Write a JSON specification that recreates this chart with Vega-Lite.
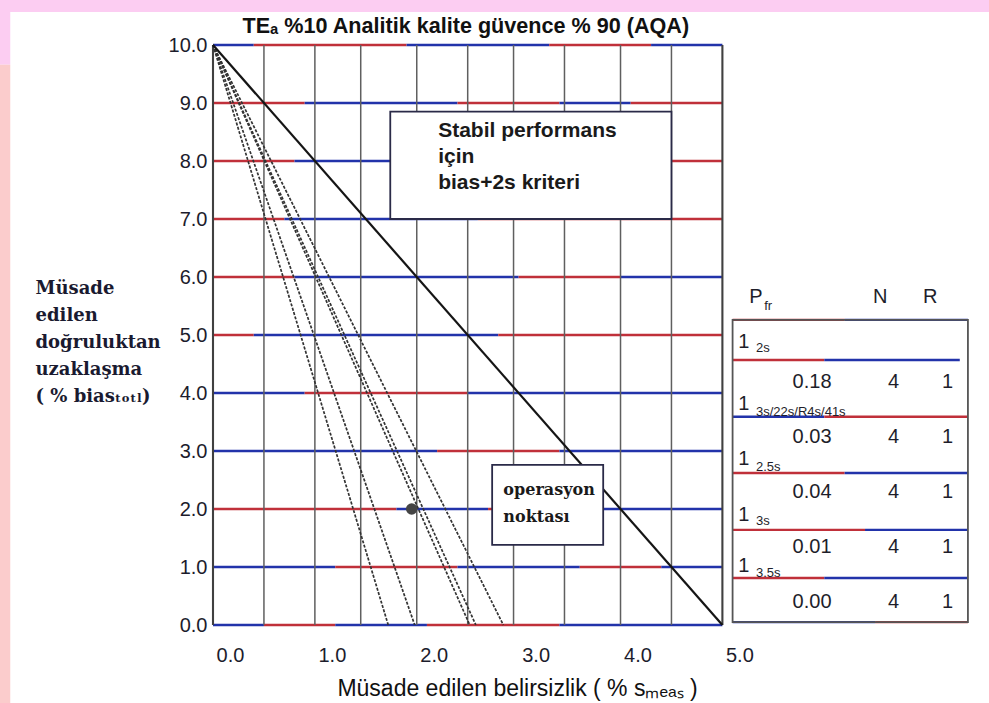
{
  "$schema": "https://vega.github.io/schema/vega-lite/v6.json",
  "width": 759,
  "height": 580,
  "autosize": {"type": "none"},
  "padding": {"left": 213, "top": 45, "right": 17, "bottom": 78},
  "background": "#ffffff",
  "config": {"view": {"stroke": null}},
  "datasets": {
    "bands": [
      {"band": "top", "x1": -2.1, "x2": 7.65, "y1": 10.57, "y2": 10.85},
      {"band": "top", "x1": -2.1, "x2": -1.99, "y1": 9.66, "y2": 10.85},
      {"band": "left", "x1": -2.1, "x2": -1.99, "y1": -1.4, "y2": 9.66}
    ],
    "hlines": [
      {"y": 10, "x1": 0, "x2": 0.4, "tone": "b"}, {"y": 10, "x1": 0.4, "x2": 1.9, "tone": "r"}, {"y": 10, "x1": 1.9, "x2": 3.3, "tone": "b"}, {"y": 10, "x1": 3.3, "x2": 4.3, "tone": "r"}, {"y": 10, "x1": 4.3, "x2": 5, "tone": "b"},
      {"y": 9, "x1": 0, "x2": 0.9, "tone": "r"}, {"y": 9, "x1": 0.9, "x2": 2.4, "tone": "b"}, {"y": 9, "x1": 2.4, "x2": 3.4, "tone": "r"}, {"y": 9, "x1": 3.4, "x2": 4.1, "tone": "b"}, {"y": 9, "x1": 4.1, "x2": 5, "tone": "r"},
      {"y": 8, "x1": 0, "x2": 0.8, "tone": "r"}, {"y": 8, "x1": 0.8, "x2": 3.5, "tone": "b"}, {"y": 8, "x1": 3.5, "x2": 5, "tone": "r"},
      {"y": 7, "x1": 0, "x2": 0.7, "tone": "r"}, {"y": 7, "x1": 0.7, "x2": 2.6, "tone": "b"}, {"y": 7, "x1": 2.6, "x2": 5, "tone": "r"},
      {"y": 6, "x1": 0, "x2": 0.8, "tone": "r"}, {"y": 6, "x1": 0.8, "x2": 3.0, "tone": "b"}, {"y": 6, "x1": 3.0, "x2": 4.0, "tone": "r"}, {"y": 6, "x1": 4.0, "x2": 5, "tone": "b"},
      {"y": 5, "x1": 0, "x2": 0.4, "tone": "r"}, {"y": 5, "x1": 0.4, "x2": 2.8, "tone": "b"}, {"y": 5, "x1": 2.8, "x2": 5, "tone": "r"},
      {"y": 4, "x1": 0, "x2": 0.9, "tone": "b"}, {"y": 4, "x1": 0.9, "x2": 2.5, "tone": "r"}, {"y": 4, "x1": 2.5, "x2": 5, "tone": "b"},
      {"y": 3, "x1": 0, "x2": 2.2, "tone": "b"}, {"y": 3, "x1": 2.2, "x2": 3.4, "tone": "r"}, {"y": 3, "x1": 3.4, "x2": 5, "tone": "b"},
      {"y": 2, "x1": 0, "x2": 1.8, "tone": "r"}, {"y": 2, "x1": 1.8, "x2": 2.7, "tone": "b"}, {"y": 2, "x1": 2.7, "x2": 3.8, "tone": "r"}, {"y": 2, "x1": 3.8, "x2": 5, "tone": "b"},
      {"y": 1, "x1": 0, "x2": 1.2, "tone": "b"}, {"y": 1, "x1": 1.2, "x2": 2.4, "tone": "r"}, {"y": 1, "x1": 2.4, "x2": 3.6, "tone": "b"}, {"y": 1, "x1": 3.6, "x2": 4.4, "tone": "r"}, {"y": 1, "x1": 4.4, "x2": 5, "tone": "b"},
      {"y": 0, "x1": 0, "x2": 0.5, "tone": "b"}, {"y": 0, "x1": 0.5, "x2": 1.2, "tone": "r"}, {"y": 0, "x1": 1.2, "x2": 2.1, "tone": "b"}, {"y": 0, "x1": 2.1, "x2": 3.4, "tone": "r"}, {"y": 0, "x1": 3.4, "x2": 5, "tone": "b"},
      {"y": 5.26, "x1": 5.1, "x2": 6.2, "tone": "r"}, {"y": 5.26, "x1": 6.2, "x2": 7.41, "tone": "b"},
      {"y": 4.57, "x1": 5.1, "x2": 6.0, "tone": "r"}, {"y": 4.57, "x1": 6.0, "x2": 7.33, "tone": "b"},
      {"y": 3.59, "x1": 5.1, "x2": 6.0, "tone": "b"}, {"y": 3.59, "x1": 6.0, "x2": 7.41, "tone": "r"},
      {"y": 2.62, "x1": 5.1, "x2": 6.2, "tone": "r"}, {"y": 2.62, "x1": 6.2, "x2": 7.41, "tone": "b"},
      {"y": 1.64, "x1": 5.1, "x2": 6.4, "tone": "r"}, {"y": 1.64, "x1": 6.4, "x2": 7.41, "tone": "b"},
      {"y": 0.81, "x1": 5.1, "x2": 6.0, "tone": "r"}, {"y": 0.81, "x1": 6.0, "x2": 7.41, "tone": "b"},
      {"y": 0.05, "x1": 5.1, "x2": 6.5, "tone": "b"}, {"y": 0.05, "x1": 6.5, "x2": 7.41, "tone": "r"}
    ],
    "vlines": [
      {"x": 0.5, "ylo": 0, "yhi": 10, "kind": "grid"}, {"x": 1.0, "ylo": 0, "yhi": 10, "kind": "grid"}, {"x": 1.45, "ylo": 0, "yhi": 10, "kind": "grid"},
      {"x": 2.0, "ylo": 0, "yhi": 10, "kind": "grid"}, {"x": 2.5, "ylo": 0, "yhi": 10, "kind": "grid"}, {"x": 2.95, "ylo": 0, "yhi": 10, "kind": "grid"},
      {"x": 3.45, "ylo": 0, "yhi": 10, "kind": "grid"}, {"x": 4.0, "ylo": 0, "yhi": 10, "kind": "grid"}, {"x": 4.5, "ylo": 0, "yhi": 10, "kind": "grid"},
      {"x": 0, "ylo": 0, "yhi": 10, "kind": "edge"}, {"x": 5, "ylo": 0, "yhi": 10, "kind": "edge"}
    ],
    "rules": [
      {"rule": "bias+2s", "x0": 0, "y0": 10, "xi": 5.0, "yi": 0},
      {"rule": "1_2s", "x0": 0, "y0": 10, "xi": 2.85, "yi": 0},
      {"rule": "1_3s/22s/R4s/41s", "x0": 0, "y0": 10, "xi": 2.58, "yi": 0},
      {"rule": "1_2.5s", "x0": 0, "y0": 10, "xi": 2.52, "yi": 0},
      {"rule": "1_3s", "x0": 0, "y0": 10, "xi": 1.98, "yi": 0},
      {"rule": "1_3.5s", "x0": 0, "y0": 10, "xi": 1.72, "yi": 0}
    ],
    "boxes": [
      {"box": "stabil", "x1": 1.74, "x2": 4.5, "y1": 7.0, "y2": 8.85},
      {"box": "oper", "x1": 2.74, "x2": 3.83, "y1": 1.38, "y2": 2.76}
    ],
    "tablebox": [{"x1": 5.1, "x2": 7.41, "y1": 0.05, "y2": 5.26}],
    "texts": [
      {"kind": "title", "t": "TEₐ %10 Analitik kalite güvence % 90 (AQA)", "x": 0.29, "y": 10.2},
      {"kind": "stabil", "t": "Stabil performans", "x": 2.21, "y": 8.52},
      {"kind": "stabil", "t": "için", "x": 2.21, "y": 8.07},
      {"kind": "stabil", "t": "bias+2s kriteri", "x": 2.21, "y": 7.62},
      {"kind": "oper", "t": "operasyon", "x": 2.85, "y": 2.33},
      {"kind": "oper", "t": "noktası", "x": 2.85, "y": 1.86},
      {"kind": "cell", "t": "P", "x": 5.33, "y": 5.66},
      {"kind": "cell", "t": "N", "x": 6.55, "y": 5.66},
      {"kind": "cell", "t": "R", "x": 7.04, "y": 5.66},
      {"kind": "sub", "t": "fr", "x": 5.41, "y": 5.5},
      {"kind": "one", "t": "1", "x": 5.21, "y": 4.88},
      {"kind": "sub", "t": "2s", "x": 5.33, "y": 4.78},
      {"kind": "cell", "t": "0.18", "x": 5.88, "y": 4.19},
      {"kind": "cell", "t": "4", "x": 6.68, "y": 4.19},
      {"kind": "cell", "t": "1", "x": 7.21, "y": 4.19},
      {"kind": "one", "t": "1", "x": 5.21, "y": 3.81},
      {"kind": "sub", "t": "3s/22s/R4s/41s", "x": 5.33, "y": 3.67},
      {"kind": "cell", "t": "0.03", "x": 5.88, "y": 3.24},
      {"kind": "cell", "t": "4", "x": 6.68, "y": 3.24},
      {"kind": "cell", "t": "1", "x": 7.21, "y": 3.24},
      {"kind": "one", "t": "1", "x": 5.21, "y": 2.86},
      {"kind": "sub", "t": "2.5s", "x": 5.33, "y": 2.72},
      {"kind": "cell", "t": "0.04", "x": 5.88, "y": 2.29},
      {"kind": "cell", "t": "4", "x": 6.68, "y": 2.29},
      {"kind": "cell", "t": "1", "x": 7.21, "y": 2.29},
      {"kind": "one", "t": "1", "x": 5.21, "y": 1.9},
      {"kind": "sub", "t": "3s", "x": 5.33, "y": 1.8},
      {"kind": "cell", "t": "0.01", "x": 5.88, "y": 1.34},
      {"kind": "cell", "t": "4", "x": 6.68, "y": 1.34},
      {"kind": "cell", "t": "1", "x": 7.21, "y": 1.34},
      {"kind": "one", "t": "1", "x": 5.21, "y": 1.02},
      {"kind": "sub", "t": "3.5s", "x": 5.33, "y": 0.9},
      {"kind": "cell", "t": "0.00", "x": 5.88, "y": 0.4},
      {"kind": "cell", "t": "4", "x": 6.68, "y": 0.4},
      {"kind": "cell", "t": "1", "x": 7.21, "y": 0.4}
    ],
    "point": [{"x": 1.95, "y": 2.0}]
  },
  "layer": [
    {
      "data": {"name": "hlines"},
      "mark": {"type": "rule", "strokeWidth": 2.4},
      "encoding": {
        "x": {"field": "x1", "type": "quantitative", "scale": {"domain": [0, 7.45], "nice": false, "zero": false},
          "axis": {"values": [0, 1, 2, 3, 4, 5], "format": ".1f", "domain": false, "ticks": false, "grid": false, "labelFont": "Liberation Sans", "labelFontSize": 20, "labelColor": "#1c1c2c", "labelPadding": 20, "labelOffset": 17, "labelFlush": false, "labelOverlap": false,
            "title": "Müsade edilen belirsizlik ( % sₘₑₐₛ )", "titleFont": "Liberation Sans", "titleFontSize": 23, "titleFontWeight": "normal", "titleColor": "#111111", "titleX": 304, "titleY": 70, "titleAlign": "center", "titleBaseline": "alphabetic"}},
        "x2": {"field": "x2"},
        "y": {"field": "y", "type": "quantitative", "scale": {"domain": [0, 10], "nice": false, "zero": false},
          "axis": {"values": [0, 1, 2, 3, 4, 5, 6, 7, 8, 9, 10], "format": ".1f", "domain": false, "ticks": false, "grid": false, "labelFont": "Liberation Sans", "labelFontSize": 20, "labelColor": "#1c1c2c", "labelPadding": 6, "labelDy": 3, "labelFlush": false, "labelOverlap": false,
            "title": ["Müsade", "edilen", "doğruluktan", "uzaklaşma", "( % biasₜₒₜₗ)"], "titleAngle": 0, "titleAlign": "left", "titleBaseline": "top", "titleX": -178, "titleY": 234, "titleFont": "DejaVu Serif", "titleFontSize": 18, "titleFontWeight": "bold", "titleLineHeight": 27, "titleColor": "#1a1a30"}},
        "stroke": {"field": "tone", "type": "nominal", "scale": {"domain": ["b", "r"], "range": ["#2233aa", "#c0303a"]}, "legend": null}
      }
    },
    {
      "data": {"name": "bands"},
      "mark": {"type": "rect", "strokeWidth": 0},
      "encoding": {
        "x": {"field": "x1", "type": "quantitative"},
        "x2": {"field": "x2"},
        "y": {"field": "y1", "type": "quantitative"},
        "y2": {"field": "y2"},
        "fill": {"field": "band", "type": "nominal", "scale": {"domain": ["top", "left"], "range": ["#fccdf2", "#fbcccc"]}, "legend": null}
      }
    },
    {
      "data": {"name": "vlines"},
      "transform": [{"filter": "datum.kind === 'grid'"}],
      "mark": {"type": "rule", "color": "#5f5f5f", "strokeWidth": 1.5},
      "encoding": {
        "x": {"field": "x", "type": "quantitative"},
        "y": {"field": "ylo", "type": "quantitative"},
        "y2": {"field": "yhi"}
      }
    },
    {
      "data": {"name": "vlines"},
      "transform": [{"filter": "datum.kind === 'edge'"}],
      "mark": {"type": "rule", "color": "#404040", "strokeWidth": 2.1},
      "encoding": {
        "x": {"field": "x", "type": "quantitative"},
        "y": {"field": "ylo", "type": "quantitative"},
        "y2": {"field": "yhi"}
      }
    },
    {
      "data": {"name": "rules"},
      "transform": [{"filter": "datum.rule !== 'bias+2s'"}],
      "mark": {"type": "rule", "strokeWidth": 1.7, "color": "#333333", "strokeDash": [3, 1.5]},
      "encoding": {
        "x": {"field": "x0", "type": "quantitative"},
        "y": {"field": "y0", "type": "quantitative"},
        "x2": {"field": "xi"},
        "y2": {"field": "yi"}
      }
    },
    {
      "data": {"name": "rules"},
      "transform": [{"filter": "datum.rule === 'bias+2s'"}],
      "mark": {"type": "rule", "strokeWidth": 2.2, "color": "#151515"},
      "encoding": {
        "x": {"field": "x0", "type": "quantitative"},
        "y": {"field": "y0", "type": "quantitative"},
        "x2": {"field": "xi"},
        "y2": {"field": "yi"}
      }
    },
    {
      "data": {"name": "boxes"},
      "mark": {"type": "rect", "fill": "#ffffff", "stroke": "#2a2a48", "strokeWidth": 1.8},
      "encoding": {
        "x": {"field": "x1", "type": "quantitative"},
        "x2": {"field": "x2"},
        "y": {"field": "y1", "type": "quantitative"},
        "y2": {"field": "y2"}
      }
    },
    {
      "data": {"name": "tablebox"},
      "mark": {"type": "rect", "fill": "#ffffff", "fillOpacity": 0, "stroke": "#555555", "strokeWidth": 1.8},
      "encoding": {
        "x": {"field": "x1", "type": "quantitative"},
        "x2": {"field": "x2"},
        "y": {"field": "y1", "type": "quantitative"},
        "y2": {"field": "y2"}
      }
    },
    {
      "data": {"name": "texts"},
      "transform": [{"filter": "datum.kind === 'title'"}],
      "mark": {"type": "text", "align": "left", "baseline": "alphabetic", "font": "Liberation Sans", "fontSize": 21.6, "fontWeight": "bold", "color": "#111111"},
      "encoding": {
        "x": {"field": "x", "type": "quantitative"},
        "y": {"field": "y", "type": "quantitative"},
        "text": {"field": "t"}
      }
    },
    {
      "data": {"name": "texts"},
      "transform": [{"filter": "datum.kind === 'stabil'"}],
      "mark": {"type": "text", "align": "left", "baseline": "middle", "font": "Liberation Sans", "fontSize": 21, "fontWeight": "bold", "color": "#1a1a1a"},
      "encoding": {
        "x": {"field": "x", "type": "quantitative"},
        "y": {"field": "y", "type": "quantitative"},
        "text": {"field": "t"}
      }
    },
    {
      "data": {"name": "texts"},
      "transform": [{"filter": "datum.kind === 'oper'"}],
      "mark": {"type": "text", "align": "left", "baseline": "middle", "font": "DejaVu Serif", "fontSize": 16, "fontWeight": "bold", "color": "#1a1a1a"},
      "encoding": {
        "x": {"field": "x", "type": "quantitative"},
        "y": {"field": "y", "type": "quantitative"},
        "text": {"field": "t"}
      }
    },
    {
      "data": {"name": "texts"},
      "transform": [{"filter": "datum.kind === 'cell' || datum.kind === 'one'"}],
      "mark": {"type": "text", "align": "center", "baseline": "middle", "font": "Liberation Sans", "fontSize": 20, "color": "#1e1e2a"},
      "encoding": {
        "x": {"field": "x", "type": "quantitative"},
        "y": {"field": "y", "type": "quantitative"},
        "text": {"field": "t"}
      }
    },
    {
      "data": {"name": "texts"},
      "transform": [{"filter": "datum.kind === 'sub'"}],
      "mark": {"type": "text", "align": "left", "baseline": "middle", "font": "Liberation Sans", "fontSize": 13, "color": "#1e1e2a"},
      "encoding": {
        "x": {"field": "x", "type": "quantitative"},
        "y": {"field": "y", "type": "quantitative"},
        "text": {"field": "t"}
      }
    },
    {
      "data": {"name": "point"},
      "mark": {"type": "point", "filled": true, "size": 130, "color": "#444444", "opacity": 1},
      "encoding": {
        "x": {"field": "x", "type": "quantitative"},
        "y": {"field": "y", "type": "quantitative"}
      }
    }
  ]
}
